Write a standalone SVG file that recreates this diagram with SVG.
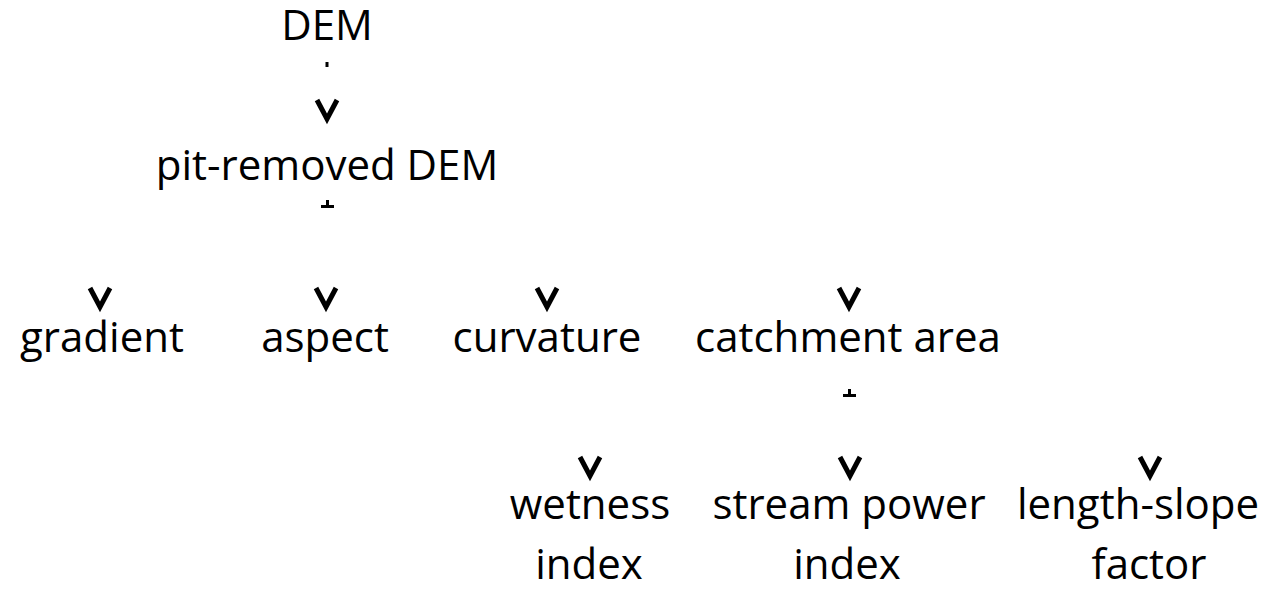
<svg xmlns="http://www.w3.org/2000/svg" width="1275" height="600" viewBox="0 0 1275 600">
<defs>
<style>
text{font-family:"Open Sans","Noto Sans",sans-serif;font-size:42px;fill:#000;text-anchor:middle}
.tick{stroke:#000;stroke-width:3;fill:none}
.head{stroke:#000;stroke-width:5;fill:none;stroke-linejoin:miter;stroke-linecap:butt}
</style>
<polyline id="chev" class="head" points="-10,-9 0,10 10,-9"/>
</defs>
<rect width="1275" height="600" fill="#fff"/>
<g id="connectors">
<line class="tick" x1="327" y1="62" x2="327" y2="67"/>
<use href="#chev" x="327" y="109"/>
<path class="tick" d="M327.5 200V207M321 206.5H334"/>
<use href="#chev" x="100" y="297"/>
<use href="#chev" x="326" y="297"/>
<use href="#chev" x="547" y="297"/>
<use href="#chev" x="849" y="297"/>
<path class="tick" d="M849.5 389V396M843 395.5H856"/>
<use href="#chev" x="590" y="466"/>
<use href="#chev" x="850" y="466"/>
<use href="#chev" x="1150" y="466"/>
</g>
<g id="n-dem"><text x="327" y="40">DEM</text></g>
<g id="n-pit"><text x="327" y="180">pit-removed DEM</text></g>
<g id="n-gradient"><text x="102" y="352">gradient</text></g>
<g id="n-aspect"><text x="325" y="352">aspect</text></g>
<g id="n-curvature"><text x="547" y="352">curvature</text></g>
<g id="n-catchment"><text x="848" y="352">catchment area</text></g>
<g id="n-wetness"><text x="590" y="519">wetness</text><text x="589" y="579">index</text></g>
<g id="n-stream"><text x="849" y="519">stream power</text><text x="847" y="579">index</text></g>
<g id="n-ls"><text x="1138" y="519">length-slope</text><text x="1149" y="579">factor</text></g>
</svg>
